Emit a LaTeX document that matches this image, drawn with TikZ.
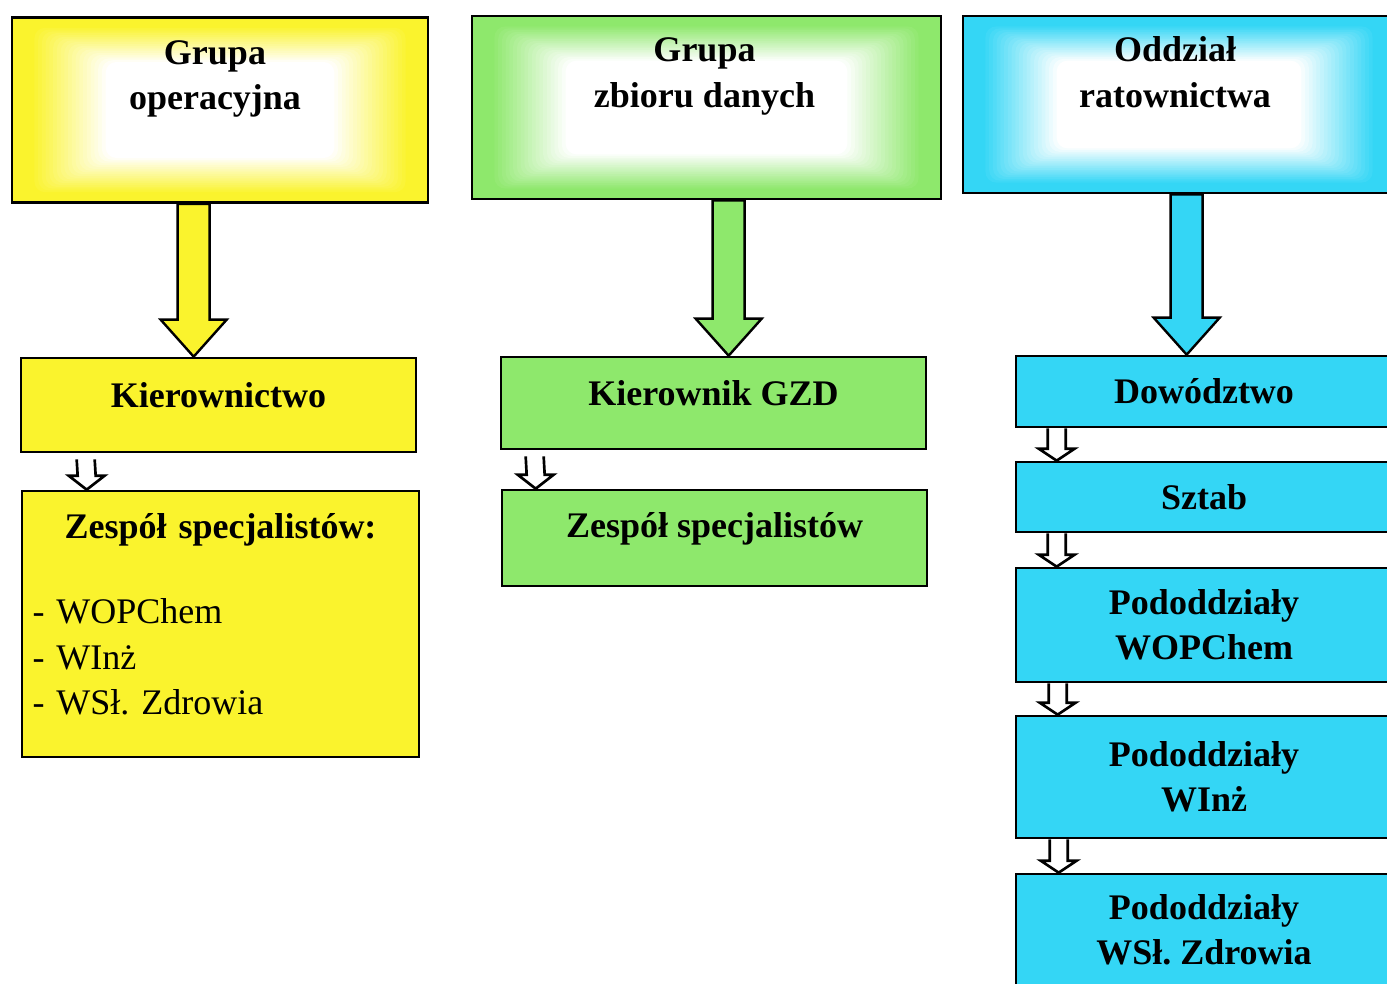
\documentclass[tikz,border=0pt]{standalone}
\usepackage{fontspec}
\setmainfont{Liberation Serif}
\usepackage{xcolor}
\usepackage{tikz}
\usetikzlibrary{calc,backgrounds}
\frenchspacing

\definecolor{opyellow}{RGB}{250,243,45}
\definecolor{gzdgreen}{RGB}{142,232,108}
\definecolor{ratcyan}{RGB}{52,214,245}

\begin{document}
\begin{tikzpicture}[x=0.75pt,y=0.75pt,yscale=-1,xscale=1,
  box/.style={draw, line width=2pt, align=center, inner sep=2pt, font=\fontsize{27}{34}\selectfont\bfseries},
  headtext/.style={anchor=north, inner sep=0pt, align=center, font=\fontsize{27}{34}\selectfont\bfseries},
  raised/.style={text depth=15pt},
  bigarrow/.style={draw, line width=1.8pt, line join=miter},
  smallarrow/.style={draw, line width=2pt, fill=white, line join=miter}]
\useasboundingbox (0,0) rectangle (1387,983);

%Shape: Rectangle [top: Grupa operacyjna]
\node[box, minimum width=312pt, minimum height=139pt] (gop) at (220,110) {};
\node[headtext] (gopt) at ($(gop.north)+(-5,24)$) {Grupa\\operacyjna};
%Shape: Rectangle [top: Grupa zbioru danych]
\node[box, minimum width=351.75pt, minimum height=137.25pt] (gzd) at (706.5,107.5) {};
\node[headtext] (gzdt) at ($(gzd.north)+(-2,23)$) {Grupa\\zbioru danych};
%Shape: Rectangle [top: Oddzial ratownictwa]
\node[box, minimum width=324pt, minimum height=132.75pt] (rat) at (1179,104.5) {};
\node[headtext] (ratt) at ($(rat.north)+(-4,22)$) {Oddział\\ratownictwa};

%Shape: Rectangle [yellow column]
\node[box, raised, fill=opyellow, minimum width=296.25pt, minimum height=70.5pt] (kier) at (218.5,405) {Kierownictwo};
\node[box, text depth=147pt, fill=opyellow, minimum width=297.75pt, minimum height=199.5pt, text width=282pt, align=left] (zesp) at (220.5,624)
  {{\centering Zespół specjalistów:\par}\vspace{30pt}{\mdseries - WOPChem\\- WInż\\- WSł. Zdrowia}};

%Shape: Rectangle [green column]
\node[box, raised, fill=gzdgreen, minimum width=318.75pt, minimum height=69pt] (kgzd) at (713.5,403) {Kierownik GZD};
\node[box, text depth=20pt, fill=gzdgreen, minimum width=318.75pt, minimum height=72pt] (zgzd) at (714.5,538) {Zespół specjalistów};

%Shape: Rectangle [cyan column]
\node[box, fill=ratcyan, minimum width=282pt, minimum height=53.25pt] (dow) at (1204,391.5) {Dowództwo};
\node[box, fill=ratcyan, minimum width=282pt, minimum height=52.5pt] (sztab) at (1204,497) {Sztab};
\node[box, fill=ratcyan, minimum width=282pt, minimum height=85.5pt] (pwop) at (1204,625) {Pododdziały\\WOPChem};
\node[box, fill=ratcyan, minimum width=282pt, minimum height=91.5pt] (pwinz) at (1204,777) {Pododdziały\\WInż};
\node[box, fill=ratcyan, minimum width=282pt, minimum height=84pt] (pwsz) at (1204,930) {Pododdziały\\WSł. Zdrowia};

%Shading: glow of the top boxes
\begin{pgfonlayer}{background}
\foreach \nm/\col in {gop/opyellow, gzd/gzdgreen, rat/ratcyan}{
  \fill[\col] (\nm.north west) rectangle (\nm.south east);
  \foreach \k in {1,...,20}{
    \pgfmathtruncatemacro\mix{100-5*\k}
    \fill[\col!\mix!white, rounded corners=8pt] ($(\nm.north west)+({20+3.75*\k},{10+1.8*\k})$) rectangle ($(\nm.south east)-({20+3.75*\k},{10+1.8*\k})$);
  }
}
\end{pgfonlayer}

%Big arrows
\draw[bigarrow, fill=opyellow] ($(gop.south west)+(167,0)$) -- ($(kier.north west)+(158,-37)$) -- ($(kier.north west)+(141,-37)$) -- ($(kier.north west)+(174,0)$) -- ($(kier.north west)+(207,-37)$) -- ($(kier.north west)+(190,-37)$) -- ($(gop.south west)+(199,0)$) -- cycle;
\draw[bigarrow, fill=gzdgreen] ($(gzd.south west)+(242,0)$) -- ($(kgzd.north west)+(213,-37)$) -- ($(kgzd.north west)+(196,-37)$) -- ($(kgzd.north west)+(229,0)$) -- ($(kgzd.north west)+(262,-37)$) -- ($(kgzd.north west)+(245,-37)$) -- ($(gzd.south west)+(274,0)$) -- cycle;
\draw[bigarrow, fill=ratcyan] ($(rat.south west)+(209,0)$) -- ($(dow.north west)+(156,-37)$) -- ($(dow.north west)+(139,-37)$) -- ($(dow.north west)+(172,0)$) -- ($(dow.north west)+(205,-37)$) -- ($(dow.north west)+(188,-37)$) -- ($(rat.south west)+(241,0)$) -- cycle;

%Small hollow arrows
\draw[smallarrow] ($(kier.south west)+(57,6)$) -- ($(zesp.north west)+(57,-14)$) -- ($(zesp.north west)+(48,-14)$) -- ($(zesp.north west)+(66,0)$) -- ($(zesp.north west)+(84,-14)$) -- ($(zesp.north west)+(75,-14)$) -- ($(kier.south west)+(75,6)$);
\draw[smallarrow] ($(kgzd.south west)+(26,6)$) -- ($(zgzd.north west)+(26,-14)$) -- ($(zgzd.north west)+(17,-14)$) -- ($(zgzd.north west)+(35,0)$) -- ($(zgzd.north west)+(53,-14)$) -- ($(zgzd.north west)+(44,-14)$) -- ($(kgzd.south west)+(44,6)$);
\draw[smallarrow] ($(dow.south west)+(33,0)$) -- ($(sztab.north west)+(33,-12)$) -- ($(sztab.north west)+(24,-12)$) -- ($(sztab.north west)+(42,0)$) -- ($(sztab.north west)+(60,-12)$) -- ($(sztab.north west)+(51,-12)$) -- ($(dow.south west)+(51,0)$);
\draw[smallarrow] ($(sztab.south west)+(33,0)$) -- ($(pwop.north west)+(33,-12)$) -- ($(pwop.north west)+(24,-12)$) -- ($(pwop.north west)+(42,0)$) -- ($(pwop.north west)+(60,-12)$) -- ($(pwop.north west)+(51,-12)$) -- ($(sztab.south west)+(51,0)$);
\draw[smallarrow] ($(pwop.south west)+(34,0)$) -- ($(pwinz.north west)+(34,-12)$) -- ($(pwinz.north west)+(25,-12)$) -- ($(pwinz.north west)+(43,0)$) -- ($(pwinz.north west)+(61,-12)$) -- ($(pwinz.north west)+(52,-12)$) -- ($(pwop.south west)+(52,0)$);
\draw[smallarrow] ($(pwinz.south west)+(35,0)$) -- ($(pwsz.north west)+(35,-12)$) -- ($(pwsz.north west)+(26,-12)$) -- ($(pwsz.north west)+(44,0)$) -- ($(pwsz.north west)+(62,-12)$) -- ($(pwsz.north west)+(53,-12)$) -- ($(pwinz.south west)+(53,0)$);

\end{tikzpicture}
\end{document}
